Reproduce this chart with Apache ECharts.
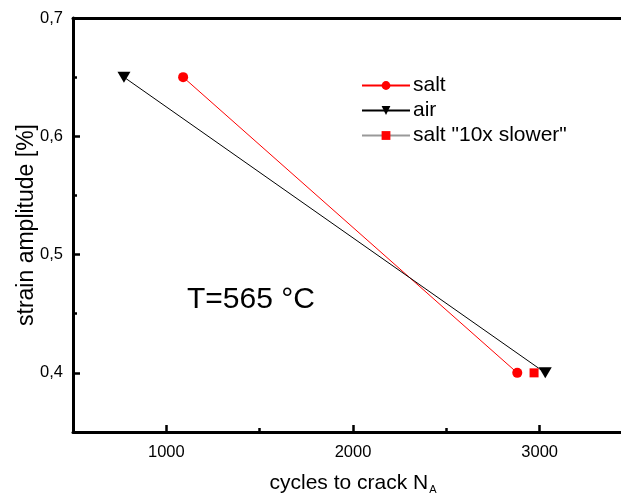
<!DOCTYPE html>
<html><head><meta charset="utf-8">
<script src="https://cdn.jsdelivr.net/npm/echarts@6/dist/echarts.min.js"></script>
<style>html,body{margin:0;padding:0;background:#fff}#c{width:621px;height:495px}</style>
</head><body><div id="c"></div>
<script>
const seriesNames = ['salt', 'air', 'salt "10x slower"'];
const saltX = [1090, 2880];
const saltY = [0.65, 0.40];
const airX = [773, 3030];
const airY = [0.65, 0.40];
const slowX = [2970];
const slowY = [0.40];
const xTicks = [1000, 2000, 3000];
const xMinorTicks = [1500, 2500];
const yTicks = [0.4, 0.5, 0.6, 0.7];
const yMinorTicks = [0.45, 0.55, 0.65];
const annotation = 'T=565 °C';

const zip = (xs, ys) => xs.map((x, i) => [x, ys[i]]);
const FONT = 'Arial, "Liberation Sans", sans-serif';
const GRID = { left: 73, top: 18, bottom: 63, right: -12, containLabel: false, outerBoundsMode: 'none' };
const chart = echarts.init(document.getElementById('c'));
chart.setOption({
  animation: false,
  backgroundColor: '#fff',
  textStyle: { fontFamily: FONT },
  grid: [Object.assign({}, GRID), Object.assign({}, GRID)],
  legend: {
    orient: 'vertical', left: 356, top: 70, itemWidth: 48, itemHeight: 11, itemGap: 4,
    textStyle: { fontSize: 21, color: '#000', fontFamily: FONT, padding: [0, 0, 0, -2] },
    data: seriesNames
  },
  xAxis: [{
    gridIndex: 0, type: 'value', min: 500, max: 3500, position: 'bottom',
    name: '{a|cycles to crack N}{s|A}', nameLocation: 'middle', nameGap: 40, nameMoveOverlap: false,
    nameTextStyle: { rich: { a: { fontSize: 21, color: '#000', fontFamily: FONT }, s: { fontSize: 11, color: '#000', fontFamily: FONT, padding: [12, 0, 0, 1] } } },
    axisLine: { lineStyle: { color: '#000', width: 3 } },
    axisTick: { inside: true, length: 7, customValues: xTicks, lineStyle: { width: 2.5, color: '#000' } },
    splitLine: { show: false },
    axisLabel: { fontSize: 16.5, color: '#000', margin: 12, fontFamily: FONT, customValues: xTicks,
      formatter: v => String(v) }
  }, {
    gridIndex: 0, type: 'value', min: 500, max: 3500, position: 'top',
    axisLine: { show: true, lineStyle: { color: '#000', width: 3 } },
    axisTick: { show: false }, axisLabel: { show: false }, splitLine: { show: false }
  }, {
    gridIndex: 1, type: 'value', min: 500, max: 3500, position: 'bottom',
    axisLine: { show: false },
    axisTick: { inside: true, length: 4, customValues: xMinorTicks, lineStyle: { width: 2.5, color: '#000' } },
    axisLabel: { show: false }, splitLine: { show: false }
  }],
  yAxis: [{
    gridIndex: 0, type: 'value', min: 0.35, max: 0.7,
    name: 'strain amplitude [%]', nameLocation: 'middle', nameGap: 35, nameMoveOverlap: false,
    nameTextStyle: { fontSize: 23, color: '#000', fontFamily: FONT },
    axisLine: { show: true, lineStyle: { color: '#000', width: 3 } },
    axisTick: { inside: true, length: 7, customValues: yTicks, lineStyle: { width: 2.5, color: '#000' } },
    splitLine: { show: false },
    axisLabel: { fontSize: 16.5, color: '#000', margin: 10, fontFamily: FONT, customValues: yTicks,
      formatter: v => (Math.round(v * 10) / 10).toFixed(1).replace('.', ',') }
  }, {
    gridIndex: 1, type: 'value', min: 0.35, max: 0.7,
    axisLine: { show: false },
    axisTick: { inside: true, length: 4, customValues: yMinorTicks, lineStyle: { width: 2.5, color: '#000' } },
    axisLabel: { show: false }, splitLine: { show: false }
  }],
  graphic: [{
    type: 'text', left: 187, top: 285,
    style: { text: annotation, fontSize: 30, fill: '#000', fontFamily: FONT }
  }],
  series: [{
    name: seriesNames[0], type: 'line', data: zip(saltX, saltY),
    symbol: 'circle', symbolSize: 10,
    itemStyle: { color: '#ff0000' }, lineStyle: { color: '#ff0000', width: 1 }
  }, {
    name: seriesNames[1], type: 'line', data: zip(airX, airY),
    symbol: 'triangle', symbolSize: [13, 11], symbolRotate: 180,
    itemStyle: { color: '#000' }, lineStyle: { color: '#000', width: 1 }
  }, {
    name: seriesNames[2], type: 'line', data: zip(slowX, slowY),
    symbol: 'rect', symbolSize: 9,
    itemStyle: { color: '#ff0000' }, lineStyle: { color: '#999', width: 1 }
  }]
});
</script></body></html>
